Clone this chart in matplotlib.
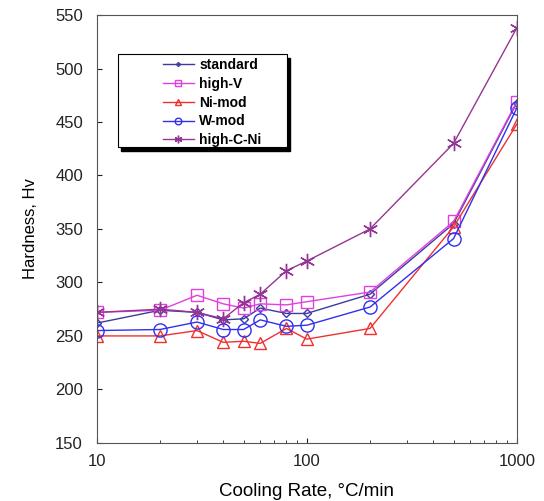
import matplotlib
matplotlib.use("Agg")
import matplotlib.pyplot as plt
from matplotlib.patches import Rectangle

plt.rcParams["font.family"] = ["Liberation Sans", "DejaVu Sans"]

# cooling rate (deg C/min)
rate = [10, 20, 30, 40, 50, 60, 80, 100, 200, 500, 1000]

standard = [262, 274, 272, 265, 266, 276, 271, 271, 289, 355, 468]
high_v = [272, 274, 288, 280, 276, 280, 279, 282, 291, 357, 469]
ni_mod = [250, 250, 255, 244, 245, 243, 257, 247, 257, 352, 448]
w_mod = [255, 256, 263, 256, 256, 265, 259, 260, 277, 341, 463]
high_c_ni = [272, 275, 272, 266, 281, 289, 311, 320, 350, 430, 538]

fig = plt.figure(figsize=(5.44, 5.01), dpi=100)
ax = fig.add_axes([0.178, 0.116, 0.772, 0.854])

ax.plot(rate, standard, color="#3a3aa0", marker="D", ms=4, mfc="none", lw=1, label="standard")
ax.plot(rate, high_v, color="#e040e0", marker="s", ms=9, mfc="none", lw=1, label="high-V")
ax.plot(rate, ni_mod, color="#f03030", marker="^", ms=9, mfc="none", lw=1, label="Ni-mod")
ax.plot(rate, w_mod, color="#3030f0", marker="o", ms=9.5, mfc="none", lw=1, label="W-mod")
ax.plot(rate, high_c_ni, color="#953595", marker=(6, 2, 0), ms=11, lw=1, label="high-C-Ni")

ax.set_xscale("log")
ax.set_xlim(10, 1000)
ax.set_ylim(150, 550)
ax.set_yticks(range(150, 551, 50))
ax.set_xticks([10, 100, 1000])
ax.set_xticklabels(["10", "100", "1000"])
ax.tick_params(axis="both", which="both", direction="in", labelsize=12, colors="#222222")
ax.tick_params(axis="x", which="major", pad=8)
ax.tick_params(axis="y", which="major", pad=10)
for sp in ax.spines.values():
    sp.set_color("#555555")

ax.set_xlabel("Cooling Rate, °C/min", fontsize=13.5, labelpad=10)
ax.set_ylabel("Hardness, Hv", fontsize=12, labelpad=12)

# legend box with a hard black drop shadow
ax.add_patch(Rectangle((0.058, 0.682), 0.402, 0.217, transform=ax.transAxes,
                       facecolor="black", edgecolor="black", zorder=4))
ax.add_patch(Rectangle((0.05, 0.692), 0.402, 0.217, transform=ax.transAxes,
                       facecolor="white", edgecolor="black", lw=0.8, zorder=5))

leg = ax.legend(loc="upper left", bbox_to_anchor=(0.158, 0.9), borderaxespad=0,
                frameon=False, borderpad=0, markerscale=0.5, handlelength=2.2,
                handletextpad=0.4, labelspacing=0.35,
                prop={"weight": "bold", "size": 10})
leg.set_zorder(6)

fig.savefig("out.png", dpi=100)
